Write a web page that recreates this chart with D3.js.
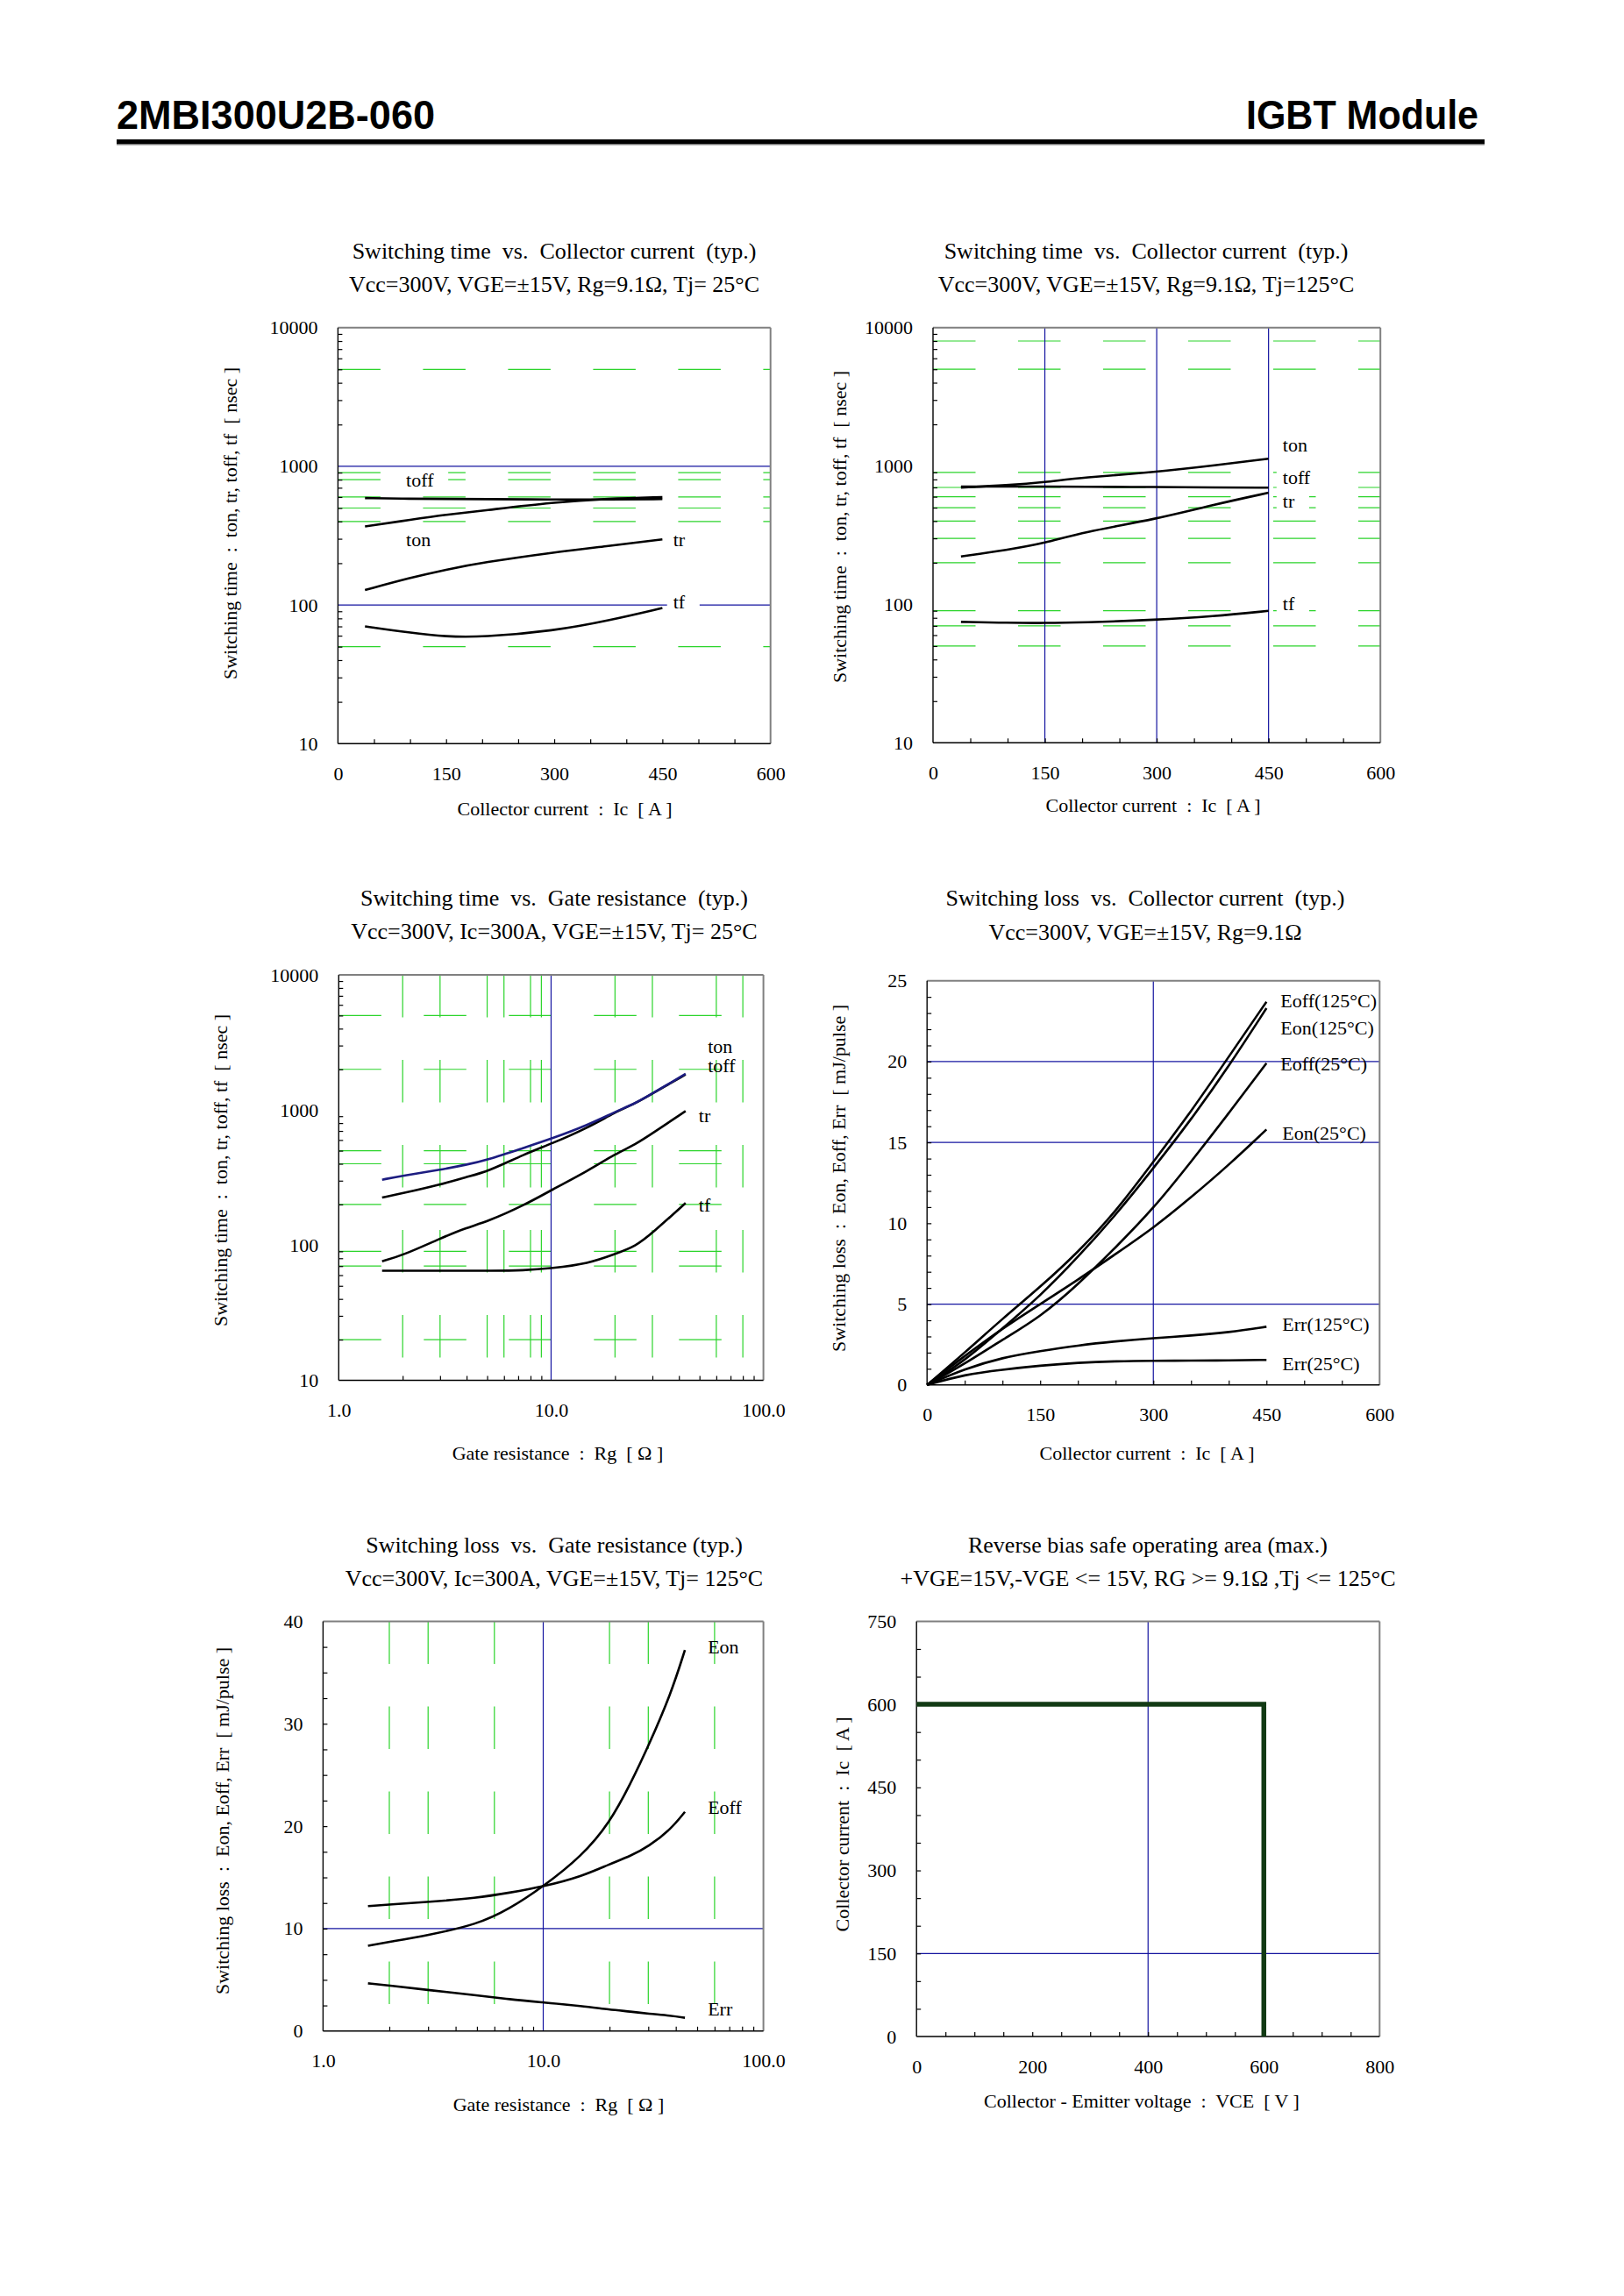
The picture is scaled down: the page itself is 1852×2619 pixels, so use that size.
<!DOCTYPE html>
<html>
<head>
<meta charset="utf-8">
<script src="https://cdn.jsdelivr.net/npm/d3@7"></script>
<style>
body { margin: 0; background: #fff; }
svg text { font-family: "Liberation Serif", "Times New Roman", serif; fill: #000; white-space: pre; }
</style>
</head>
<body>
<svg id="page" width="1852" height="2619"></svg>
<script>
// ---- data ----

// Switching time vs collector current, Tj=25°C
var icTime25 = [37.5, 100, 150, 200, 300, 375, 450];
var ton25 = [368, 411, 448, 478, 551, 585, 600];
var toff25 = [590, 582, 582, 580, 575, 575, 580];
var tr25 = [128, 157, 180, 202, 240, 266, 297];
var tf25 = [70, 63, 59, 58.5, 65, 77, 95];

// Switching time vs collector current, Tj=125°C
var icTime125 = [37.5, 100, 150, 200, 300, 375, 450];
var ton125 = [698, 726, 764, 826, 905, 1005, 1130];
var toff125 = [711, 711, 711, 708, 705, 700, 698];
var tr125 = [222, 248, 277, 332, 414, 524, 641];
var tf125 = [74.8, 73.6, 73.3, 74, 77.3, 82, 89.8];

// Switching time vs gate resistance, Tj=25°C
var rgTime = [1.6, 2, 3, 4, 5, 7.5, 10, 15, 20, 25, 30, 43];
var tonRg = [305, 327, 361, 394, 427, 528, 612, 778, 969, 1122, 1326, 1850];
var toffRg = [225, 242, 280, 320, 349, 472, 561, 743, 962, 1120, 1326, 1830];
var trRg = [76, 84, 112, 135, 149, 198, 255, 356, 472, 557, 672, 982];
var tfRg = [64.7, 64.7, 64.7, 64.7, 64.7, 65, 67.3, 73, 86, 98, 123, 205];

// Switching loss vs collector current
var icLoss = [0, 50, 100, 150, 200, 250, 300, 350, 400, 450];
var eoff125 = [0, 2.0, 4.1, 6.05, 8.2, 10.7, 13.8, 16.9, 20.3, 23.7];
var eon125 = [0, 1.5, 3.5, 5.5, 7.9, 10.5, 13.4, 16.4, 19.7, 23.3];
var eoff25 = [0, 1.3, 2.8, 4.2, 6.2, 8.5, 10.9, 13.8, 16.8, 19.9];
var eon25 = [0, 1.8, 3.5, 5.0, 6.5, 8.1, 9.7, 11.6, 13.6, 15.8];
var err125 = [0, 1.0, 1.7, 2.1, 2.45, 2.7, 2.9, 3.05, 3.25, 3.6];
var err25 = [0, 0.65, 0.95, 1.2, 1.38, 1.47, 1.5, 1.5, 1.52, 1.55];

// Switching loss vs gate resistance, Tj=125°C
var rgLoss = [1.6, 2, 3, 5, 7, 10, 15, 20, 25, 30, 38, 44];
var eonRg = [8.33, 8.7, 9.36, 10.4, 11.9, 14.1, 17.1, 20.3, 24.2, 27.8, 32.9, 37.2];
var eoffRg = [12.2, 12.35, 12.6, 13.0, 13.5, 14.1, 15.1, 16.3, 17.1, 18.0, 19.7, 21.4];
var errRg = [4.66, 4.45, 4.0, 3.5, 3.1, 2.8, 2.45, 2.1, 1.9, 1.7, 1.5, 1.3];

// Reverse bias safe operating area
var vceSoa = [0, 600, 600];
var icSoa = [600, 600, 0];

// tick labels
var timeTicks = [10, 100, 1000, 10000];
var icTicks = [0, 150, 300, 450, 600];
var rgTicks = [1, 10, 100];
var rgTickText = ["1.0", "10.0", "100.0"];
var lossTicks = [0, 5, 10, 15, 20, 25];
var lossRgTicks = [0, 10, 20, 30, 40];
var vceTicks = [0, 200, 400, 600, 800];
var icSoaTicks = [0, 150, 300, 450, 600, 750];

// curve labels: text, x value, y value (text left / middle)
var labels1 = [["toff", 94.5, 803], ["ton", 94.5, 297], ["tr", 465, 297], ["tf", 465, 105]];
var labels2 = [["ton", 469, 1419], ["toff", 469, 826], ["tr", 469, 559], ["tf", 469, 101]];
var labels3 = [["ton", 54.7, 2951], ["toff", 54.7, 2143], ["tr", 49.6, 919], ["tf", 49.6, 198]];
var labels4 = [["Eoff(125°C)", 468.6, 23.8], ["Eon(125°C)", 468.6, 22.07], ["Eoff(25°C)", 468.6, 19.85],
               ["Eon(25°C)", 471, 15.6], ["Err(125°C)", 471, 3.75], ["Err(25°C)", 471, 1.33]];
var labels5 = [["Eon", 55.9, 37.5], ["Eoff", 55.9, 21.9], ["Err", 55.9, 2.18]];

var GREEN = "#2bd42b", BLUE = "#1414a0";
var SERIF = "'Liberation Serif', 'Times New Roman', serif";
var svg = d3.select("#page");

// header
svg.append("text").attr("x", 133).attr("y", 147)
	.style("font-family", "'Liberation Sans', Arial, sans-serif")
	.attr("font-weight", "bold").attr("font-size", 46)
	.attr("textLength", 363).attr("lengthAdjust", "spacingAndGlyphs")
	.text("2MBI300U2B-060");
svg.append("text").attr("x", 1421).attr("y", 147)
	.style("font-family", "'Liberation Sans', Arial, sans-serif")
	.attr("font-weight", "bold").attr("font-size", 46)
	.attr("textLength", 265).attr("lengthAdjust", "spacingAndGlyphs")
	.text("IGBT Module");
svg.append("rect").attr("x", 133).attr("y", 159).attr("width", 1560).attr("height", 5).attr("fill", "#000");
svg.append("rect").attr("x", 133).attr("y", 164).attr("width", 1560).attr("height", 1.5).attr("fill", "#777");

function logMinors(lo, hi) {
	var out = [];
	for (var d = lo; d < hi; d *= 10)
		for (var k = 2; k <= 9; k++) out.push(d * k);
	return out;
}

var timeYLabel = "Switching time  :  ton, tr, toff, tf  [ nsec ]";
var lossYLabel = "Switching loss  :  Eon, Eoff, Err  [ mJ/pulse ]";
var icXLabel = "Collector current  :  Ic  [ A ]";
var rgXLabel = "Gate resistance  :  Rg  [ Ω ]";

var panels = [
	{
		box: [385.4, 878.7, 373.7, 848.2], titleX: 632, titleY: [285.7, 323.7],
		yLab: [262, 597], xLab: [644, 922],
		title: ["Switching time  vs.  Collector current  (typ.)", "Vcc=300V, VGE=±15V, Rg=9.1Ω, Tj= 25°C"],
		xText: icXLabel, yText: timeYLabel,
		xDomain: [0, 600], yLog: true, yDomain: [10, 10000],
		xTicks: icTicks, yTicks: timeTicks, xMinor: d3.range(50, 600, 50), yMinor: logMinors(10, 10000),
		greenH: [5000, 900, 800, 600, 500, 400, 50], greenV: [], blueH: [1000, 100], blueV: [],
		series: [[icTime25, toff25], [icTime25, ton25], [icTime25, tr25], [icTime25, tf25]],
		labels: labels1, mask: true
	},
	{
		box: [1064, 1574.2, 373.7, 847.3], titleX: 1307, titleY: [285.7, 323.7],
		yLab: [957, 601], xLab: [1315, 918],
		title: ["Switching time  vs.  Collector current  (typ.)", "Vcc=300V, VGE=±15V, Rg=9.1Ω, Tj=125°C"],
		xText: icXLabel, yText: timeYLabel,
		xDomain: [0, 600], yLog: true, yDomain: [10, 10000],
		xTicks: icTicks, yTicks: timeTicks, xMinor: d3.range(50, 600, 50), yMinor: logMinors(10, 10000),
		greenH: [8000, 5000, 900, 700, 600, 500, 400, 300, 200, 90, 70, 50], greenV: [], blueH: [], blueV: [150, 300, 450],
		series: [[icTime125, ton125], [icTime125, toff125], [icTime125, tr125], [icTime125, tf125]],
		labels: labels2, mask: true
	},
	{
		box: [386.3, 870.6, 1112, 1574.5], titleX: 632, titleY: [1024, 1062],
		yLab: [251, 1335], xLab: [636, 1657],
		title: ["Switching time  vs.  Gate resistance  (typ.)", "Vcc=300V, Ic=300A, VGE=±15V, Tj= 25°C"],
		xText: rgXLabel, yText: timeYLabel,
		xLog: true, xDomain: [1, 100], yLog: true, yDomain: [10, 10000],
		xTicks: rgTicks, xFmt: rgTickText, yTicks: timeTicks, xMinor: logMinors(1, 100), yMinor: logMinors(10, 10000),
		greenH: [5000, 2000, 500, 400, 200, 90, 70, 20], greenV: [2, 3, 5, 6, 8, 9, 20, 30, 60, 80],
		blueH: [], blueV: [10],
		series: [[rgTime, toffRg], [rgTime, trRg], [rgTime, tfRg], [rgTime, tonRg, "#1c1c80"]],
		labels: labels3, mask: false
	},
	{
		box: [1057.2, 1573.3, 1118.7, 1579.8], titleX: 1306, titleY: [1024, 1063],
		yLab: [956, 1344], xLab: [1308, 1657],
		title: ["Switching loss  vs.  Collector current  (typ.)", "Vcc=300V, VGE=±15V, Rg=9.1Ω"],
		xText: icXLabel, yText: lossYLabel,
		xDomain: [0, 600], yDomain: [0, 25],
		xTicks: icTicks, yTicks: lossTicks, xMinor: d3.range(50, 600, 50), yMinor: d3.range(1, 25, 1),
		greenH: [], greenV: [], blueH: [5, 15, 20], blueV: [300],
		series: [[icLoss, eoff125], [icLoss, eon125], [icLoss, eoff25], [icLoss, eon25], [icLoss, err125], [icLoss, err25]],
		labels: labels4, mask: false
	},
	{
		box: [368.4, 870.6, 1849.4, 2316.8], titleX: 632, titleY: [1761.4, 1800],
		yLab: [253, 2077], xLab: [637, 2400],
		title: ["Switching loss  vs.  Gate resistance (typ.)", "Vcc=300V, Ic=300A, VGE=±15V, Tj= 125°C"],
		xText: rgXLabel, yText: lossYLabel,
		xLog: true, xDomain: [1, 100], yDomain: [0, 40],
		xTicks: rgTicks, xFmt: rgTickText, yTicks: lossRgTicks, xMinor: logMinors(1, 100), yMinor: d3.range(2.5, 40, 2.5),
		greenH: [], greenV: [2, 3, 6, 20, 30, 60], blueH: [10], blueV: [10],
		series: [[rgLoss, eonRg], [rgLoss, eoffRg], [rgLoss, errRg]],
		labels: labels5, mask: false
	},
	{
		box: [1045.2, 1573.3, 1849.4, 2323], titleX: 1309, titleY: [1761.4, 1800],
		yLab: [960, 2081], xLab: [1302, 2396],
		title: ["Reverse bias safe operating area (max.)", "+VGE=15V,-VGE <= 15V, RG >= 9.1Ω ,Tj <= 125°C"],
		xText: "Collector - Emitter voltage  :  VCE  [ V ]", yText: "Collector current  :  Ic  [ A ]",
		xDomain: [0, 800], yDomain: [0, 750],
		xTicks: vceTicks, yTicks: icSoaTicks, xMinor: d3.range(50, 800, 50), yMinor: d3.range(50, 750, 50),
		greenH: [], greenV: [], blueH: [150], blueV: [400],
		series: [[vceSoa, icSoa, "#123a14", 5.5, d3.curveLinear]],
		labels: [], mask: false
	}
];

function drawPanel(p) {
	var L = p.box[0], R = p.box[1], T = p.box[2], B = p.box[3];
	var x = (p.xLog ? d3.scaleLog() : d3.scaleLinear()).domain(p.xDomain).range([L, R]);
	var y = (p.yLog ? d3.scaleLog() : d3.scaleLinear()).domain(p.yDomain).range([B, T]);

	var g = svg.append("g");
	var gridG = g.append("g"), maskG = g.append("g"), lineG = g.append("g"), textG = g.append("g");

	// titles
	p.title.forEach(function (t, i) {
		textG.append("text").attr("x", p.titleX).attr("y", p.titleY[i]).attr("dy", "0.35em")
			.attr("text-anchor", "middle").attr("font-size", 26).text(t);
	});

	// green dashed grid (left over from the scanned sheet)
	gridG.selectAll(".gh").data(p.greenH).enter().append("line")
		.attr("x1", L).attr("x2", R).attr("y1", function (d) { return y(d); }).attr("y2", function (d) { return y(d); })
		.attr("stroke", GREEN).attr("stroke-width", 1.2).attr("stroke-dasharray", "48.5 48.5");
	gridG.selectAll(".gv").data(p.greenV).enter().append("line")
		.attr("y1", T).attr("y2", B).attr("x1", function (d) { return x(d); }).attr("x2", function (d) { return x(d); })
		.attr("stroke", GREEN).attr("stroke-width", 1.2).attr("stroke-dasharray", "48.5 48.5");

	// blue grid
	gridG.selectAll(".bh").data(p.blueH).enter().append("line")
		.attr("x1", L).attr("x2", R).attr("y1", function (d) { return y(d); }).attr("y2", function (d) { return y(d); })
		.attr("stroke", BLUE).attr("stroke-width", 1.2);
	gridG.selectAll(".bv").data(p.blueV).enter().append("line")
		.attr("y1", T).attr("y2", B).attr("x1", function (d) { return x(d); }).attr("x2", function (d) { return x(d); })
		.attr("stroke", BLUE).attr("stroke-width", 1.2);

	// box: grey top/right, black left/bottom
	gridG.append("line").attr("x1", L).attr("x2", R).attr("y1", T).attr("y2", T).attr("stroke", "#808080").attr("stroke-width", 2);
	gridG.append("line").attr("x1", R).attr("x2", R).attr("y1", T).attr("y2", B).attr("stroke", "#808080").attr("stroke-width", 2);
	gridG.append("line").attr("x1", L).attr("x2", L).attr("y1", T).attr("y2", B).attr("stroke", "#000").attr("stroke-width", 1.4);
	gridG.append("line").attr("x1", L).attr("x2", R).attr("y1", B).attr("y2", B).attr("stroke", "#000").attr("stroke-width", 1.4);

	// minor ticks inside the box
	var minorX = gridG.append("g").attr("transform", "translate(0," + B + ")")
		.call(d3.axisBottom(x).tickValues(p.xMinor).tickSizeInner(-5).tickSizeOuter(0).tickFormat(""));
	var minorY = gridG.append("g").attr("transform", "translate(" + L + ",0)")
		.call(d3.axisLeft(y).tickValues(p.yMinor).tickSizeInner(-5).tickSizeOuter(0).tickFormat(""));
	[minorX, minorY].forEach(function (a) {
		a.select(".domain").remove();
		a.selectAll("line").attr("stroke", "#000").attr("stroke-width", 1.2);
	});

	// tick labels
	var xa = textG.append("g").attr("transform", "translate(0," + B + ")")
		.call(d3.axisBottom(x).tickValues(p.xTicks).tickSize(0).tickPadding(26)
			.tickFormat(function (d, i) { return p.xFmt ? p.xFmt[i] : d; }));
	var ya = textG.append("g").attr("transform", "translate(" + L + ",0)")
		.call(d3.axisLeft(y).tickValues(p.yTicks).tickSize(0).tickPadding(23).tickFormat(function (d) { return d; }));
	[xa, ya].forEach(function (a) {
		a.select(".domain").remove();
		a.attr("font-size", 22).attr("font-family", null);
		a.selectAll("text").attr("fill", "#000").style("font-family", SERIF).style("font-size", "22px");
	});

	// axis titles
	textG.append("text").attr("x", p.xLab[0]).attr("y", p.xLab[1]).attr("dy", "0.35em")
		.attr("text-anchor", "middle").attr("font-size", 22).text(p.xText);
	textG.append("text").attr("transform", "translate(" + p.yLab[0] + "," + p.yLab[1] + ") rotate(-90)")
		.attr("dy", "0.35em").attr("text-anchor", "middle").attr("font-size", 22).text(p.yText);

	// curves
	p.series.forEach(function (s) {
		var pts = s[0].map(function (v, i) { return [v, s[1][i]]; });
		var line = d3.line()
			.curve(s[4] || d3.curveBasis)
			.x(function (d) { return x(d[0]); })
			.y(function (d) { return y(d[1]); });
		lineG.append("path").datum(pts).attr("d", line)
			.attr("fill", "none").attr("stroke", s[2] || "#000")
			.attr("stroke-width", s[3] || 2.6).attr("stroke-linecap", "butt");
	});

	// curve labels, masked with white in the first two panels
	p.labels.forEach(function (l) {
		var t = textG.append("text").attr("x", x(l[1])).attr("y", y(l[2])).attr("dy", "0.35em")
			.attr("font-size", 22).text(l[0]);
		if (p.mask) {
			var bb = t.node().getBBox();
			maskG.append("rect").attr("x", bb.x - 7).attr("y", y(l[2]) - 13)
				.attr("width", bb.width + 23).attr("height", 26).attr("fill", "#fff");
		}
	});
}

panels.forEach(drawPanel);
</script>
</body>
</html>
